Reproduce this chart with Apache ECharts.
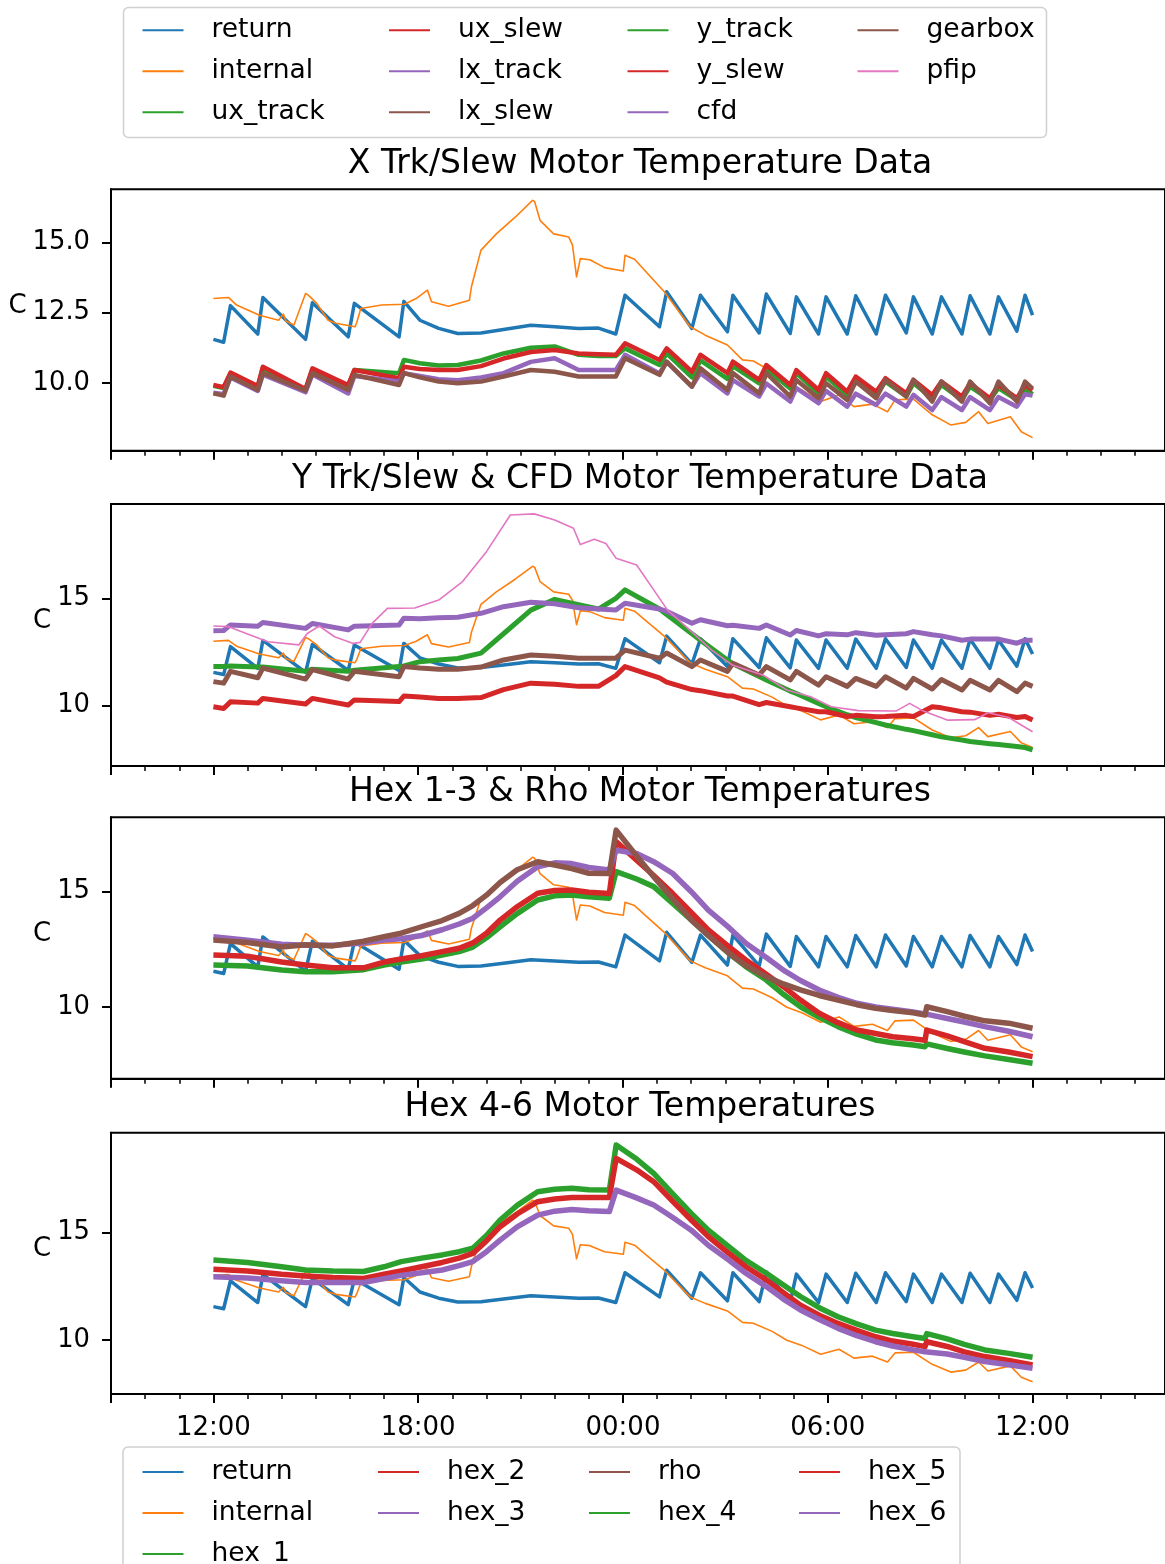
<!DOCTYPE html>
<html><head><meta charset="utf-8">
<script src="https://cdn.jsdelivr.net/npm/echarts@6/dist/echarts.min.js"></script>
<style>html,body{margin:0;padding:0;background:#fff}#c{width:1165px;height:1564px}</style>
</head><body><div id="c"></div>
<script>
// ---------------- DATA (times are hours since 00:00 of day 1) ----------------
const T_RET = [12.0, 12.3, 12.5, 13.3, 13.45, 14.7, 14.9, 15.95, 16.13, 17.44, 17.58, 18.05, 18.6, 19.16, 19.84, 20.5, 21.3, 22.0, 22.7, 23.28, 23.79, 24.06, 25.07, 25.28, 26.02, 26.27, 27.06, 27.22, 27.99, 28.2, 28.9, 29.08, 29.73, 29.95, 30.57, 30.82, 31.42, 31.69, 32.3, 32.51, 33.06, 33.33, 33.93, 34.17, 34.75, 35.0, 35.54, 35.78, 36.0];
const RETURN = [11.55, 11.45, 12.75, 11.74, 13.04, 11.55, 12.85, 11.64, 12.83, 11.64, 12.9, 12.23, 11.94, 11.76, 11.78, 11.9, 12.05, 12.0, 11.94, 11.95, 11.74, 13.12, 12.0, 13.24, 11.94, 13.12, 11.82, 13.12, 11.78, 13.16, 11.76, 13.06, 11.74, 13.06, 11.74, 13.1, 11.74, 13.12, 11.78, 13.06, 11.74, 13.06, 11.74, 13.1, 11.74, 13.06, 11.84, 13.12, 12.41];
const UX_TRACK = [9.9, 9.82, 10.33, 9.86, 10.52, 9.76, 10.48, 9.9, 10.46, 10.35, 10.82, 10.7, 10.62, 10.64, 10.8, 11.05, 11.25, 11.3, 11.0, 10.96, 10.96, 11.23, 10.64, 11.05, 10.2, 10.8, 10.15, 10.6, 9.99, 10.5, 9.8, 10.35, 9.63, 10.23, 9.57, 10.1, 9.57, 10.05, 9.52, 9.99, 9.46, 9.93, 9.4, 9.87, 9.4, 9.82, 9.4, 9.8, 9.6];
const UX_SLEW = [9.93, 9.85, 10.37, 9.89, 10.58, 9.79, 10.52, 9.93, 10.46, 10.17, 10.58, 10.5, 10.46, 10.46, 10.6, 10.87, 11.1, 11.17, 11.05, 11.02, 11.0, 11.41, 10.82, 11.23, 10.4, 11.0, 10.35, 10.76, 10.11, 10.64, 9.93, 10.46, 9.75, 10.35, 9.69, 10.23, 9.69, 10.17, 9.63, 10.11, 9.57, 10.05, 9.52, 9.99, 9.46, 9.93, 9.46, 9.93, 9.75];
const LX_TRACK = [9.65, 9.6, 10.2, 9.72, 10.3, 9.67, 10.3, 9.63, 10.25, 10.05, 10.35, 10.25, 10.13, 10.1, 10.2, 10.35, 10.75, 10.88, 10.46, 10.46, 10.46, 11.0, 10.34, 10.75, 9.87, 10.35, 9.63, 10.1, 9.52, 9.98, 9.34, 9.82, 9.28, 9.72, 9.16, 9.62, 9.22, 9.62, 9.16, 9.58, 9.04, 9.5, 9.04, 9.5, 9.04, 9.5, 9.16, 9.6, 9.55];
const LX_SLEW = [9.63, 9.55, 10.23, 9.75, 10.35, 9.73, 10.35, 9.75, 10.29, 9.93, 10.35, 10.2, 10.05, 9.99, 10.05, 10.23, 10.46, 10.4, 10.23, 10.23, 10.23, 10.88, 10.29, 10.76, 9.87, 10.52, 9.75, 10.35, 9.63, 10.35, 9.52, 10.11, 9.46, 9.99, 9.4, 10.05, 9.46, 10.11, 9.52, 10.11, 9.34, 10.05, 9.34, 10.05, 9.28, 10.05, 9.34, 10.05, 9.8];
const Y_TRACK = [11.82, 11.82, 11.85, 11.8, 11.8, 11.6, 11.7, 11.6, 11.65, 11.82, 11.85, 12.05, 12.13, 12.2, 12.45, 13.35, 14.45, 14.95, 14.7, 14.5, 15.0, 15.39, 14.5, 14.25, 13.35, 13.05, 12.13, 11.95, 11.36, 11.2, 10.68, 10.57, 10.1, 9.95, 9.58, 9.45, 9.21, 9.1, 8.9, 8.84, 8.65, 8.55, 8.4, 8.33, 8.23, 8.19, 8.1, 8.05, 7.94];
const Y_SLEW = [9.95, 9.87, 10.18, 10.12, 10.34, 10.08, 10.34, 10.03, 10.27, 10.19, 10.45, 10.4, 10.34, 10.34, 10.38, 10.75, 11.05, 11.0, 10.9, 10.9, 11.4, 11.82, 11.3, 11.1, 10.75, 10.7, 10.45, 10.45, 10.05, 10.15, 9.95, 9.9, 9.72, 9.72, 9.5, 9.55, 9.49, 9.5, 9.55, 9.5, 9.95, 9.9, 9.72, 9.7, 9.55, 9.6, 9.45, 9.5, 9.33];
const CFD = [13.49, 13.5, 13.76, 13.7, 13.87, 13.6, 13.83, 13.53, 13.7, 13.76, 14.07, 14.05, 14.1, 14.12, 14.3, 14.61, 14.82, 14.75, 14.56, 14.5, 14.45, 14.77, 14.5, 14.4, 13.84, 14.0, 13.72, 13.75, 13.6, 13.76, 13.29, 13.5, 13.25, 13.35, 13.3, 13.4, 13.28, 13.3, 13.35, 13.45, 13.3, 13.25, 13.05, 13.1, 13.1, 13.1, 12.91, 13.05, 13.05];
const GEARBOX = [11.12, 11.05, 11.6, 11.3, 11.75, 11.24, 11.68, 11.24, 11.6, 11.35, 11.82, 11.75, 11.7, 11.7, 11.8, 12.13, 12.36, 12.3, 12.21, 12.21, 12.21, 12.59, 12.21, 12.45, 11.82, 12.13, 11.6, 11.97, 11.43, 11.82, 11.2, 11.6, 10.96, 11.35, 10.9, 11.27, 10.9, 11.35, 10.82, 11.27, 10.78, 11.22, 10.73, 11.18, 10.73, 11.18, 10.65, 11.05, 10.9];

const T_INT = [12.0, 12.44, 12.68, 13.35, 13.91, 14.05, 14.12, 14.36, 14.7, 14.78, 15.03, 15.36, 15.59, 16.15, 16.2, 16.32, 16.93, 17.6, 17.94, 18.27, 18.39, 18.89, 19.5, 19.56, 19.84, 20.29, 20.85, 21.35, 21.41, 21.57, 21.97, 22.41, 22.52, 22.64, 22.75, 23.03, 23.46, 24.01, 24.06, 24.34, 24.72, 25.21, 25.97, 26.41, 27.06, 27.5, 27.82, 28.37, 28.8, 29.24, 29.79, 30.33, 30.77, 31.31, 31.75, 31.97, 32.51, 33.06, 33.6, 34.04, 34.42, 34.69, 35.35, 35.67, 36.0];
const INTERNAL = [13.0, 13.04, 12.77, 12.41, 12.23, 12.45, 12.2, 12.06, 13.18, 13.12, 12.83, 12.23, 12.12, 12.0, 12.15, 12.65, 12.77, 12.8, 13.0, 13.3, 12.89, 12.73, 12.94, 13.42, 14.72, 15.3, 15.9, 16.49, 16.45, 15.78, 15.3, 15.19, 14.9, 13.77, 14.42, 14.38, 14.1, 13.98, 14.54, 14.4, 13.89, 13.24, 12.0, 11.7, 11.35, 10.82, 10.78, 10.4, 9.99, 9.75, 9.34, 9.57, 9.16, 9.25, 8.98, 9.4, 9.43, 8.87, 8.51, 8.6, 8.98, 8.56, 8.8, 8.27, 8.06];

const T_PFIP = [12.0, 12.45, 13.0, 13.6, 14.5, 14.75, 15.1, 15.55, 16.1, 16.3, 16.65, 17.1, 17.9, 18.6, 19.3, 20.0, 20.7, 21.4, 22.0, 22.55, 22.75, 23.16, 23.5, 23.8, 24.4, 24.9, 25.3, 25.95, 26.6, 27.2, 28.1, 28.8, 29.5, 30.1, 30.9, 32.0, 32.4, 32.8, 33.5, 34.3, 34.7, 35.3, 36.0];
const PFIP = [13.71, 13.68, 13.34, 12.98, 12.83, 13.36, 13.71, 13.21, 12.9, 12.95, 13.83, 14.53, 14.55, 14.92, 15.78, 17.17, 18.88, 18.93, 18.65, 18.26, 17.5, 17.75, 17.55, 16.86, 16.55, 15.39, 14.46, 13.53, 12.59, 11.9, 11.43, 10.73, 10.42, 9.95, 9.77, 9.75, 10.11, 9.75, 9.33, 9.35, 9.67, 9.45, 8.79];

const T_HEX = [12.0, 13.0, 14.0, 14.7, 15.5, 16.4, 17.0, 17.5, 18.1, 18.7, 19.2, 19.6, 20.0, 20.4, 20.9, 21.5, 22.0, 22.5, 23.0, 23.6, 23.8, 24.4, 24.9, 25.45, 26.0, 26.5, 27.1, 27.6, 28.2, 28.7, 29.2, 29.75, 30.3, 30.85, 31.4, 31.9, 32.5, 32.85, 32.9, 33.5, 34.0, 34.6, 35.3, 36.0];
const HEX_1 = [11.82, 11.78, 11.6, 11.53, 11.53, 11.62, 11.82, 11.95, 12.08, 12.25, 12.4, 12.6, 13.0, 13.48, 14.05, 14.64, 14.82, 14.86, 14.78, 14.72, 15.87, 15.55, 15.22, 14.5, 13.77, 13.1, 12.33, 11.75, 11.17, 10.55, 10.01, 9.55, 9.15, 8.82, 8.57, 8.45, 8.35, 8.28, 8.4, 8.2, 8.05, 7.88, 7.72, 7.56];
const HEX_2 = [12.25, 12.2, 11.95, 11.82, 11.7, 11.7, 11.95, 12.08, 12.22, 12.4, 12.55, 12.78, 13.2, 13.77, 14.35, 14.93, 15.05, 15.07, 14.98, 14.92, 17.17, 16.37, 15.7, 14.93, 14.1, 13.34, 12.62, 12.04, 11.42, 10.88, 10.3, 9.73, 9.32, 9.0, 8.85, 8.71, 8.62, 8.56, 9.0, 8.75, 8.5, 8.21, 8.05, 7.85];
const HEX_3 = [13.05, 12.9, 12.72, 12.68, 12.68, 12.78, 12.9, 12.96, 13.1, 13.35, 13.6, 13.85, 14.3, 14.78, 15.45, 16.08, 16.25, 16.22, 16.05, 15.94, 16.8, 16.66, 16.3, 15.8, 15.0, 14.2, 13.45, 12.76, 12.15, 11.6, 11.15, 10.74, 10.42, 10.16, 10.0, 9.9, 9.78, 9.7, 9.7, 9.5, 9.35, 9.15, 8.95, 8.71];
const RHO = [12.9, 12.8, 12.6, 12.7, 12.65, 12.85, 13.05, 13.2, 13.48, 13.75, 14.06, 14.4, 14.85, 15.4, 15.95, 16.3, 16.16, 16.0, 15.8, 15.79, 17.67, 16.55, 15.65, 14.7, 13.77, 13.1, 12.33, 11.8, 11.31, 11.0, 10.74, 10.5, 10.3, 10.1, 9.94, 9.85, 9.75, 9.65, 10.01, 9.8, 9.6, 9.4, 9.3, 9.08];
const HEX_4 = [13.71, 13.6, 13.4, 13.25, 13.2, 13.18, 13.4, 13.64, 13.8, 13.95, 14.1, 14.26, 14.85, 15.57, 16.25, 16.88, 17.0, 17.04, 16.98, 16.96, 19.05, 18.4, 17.74, 16.8, 15.88, 15.1, 14.33, 13.7, 13.1, 12.55, 12.02, 11.5, 11.08, 10.75, 10.46, 10.3, 10.15, 10.07, 10.3, 10.05, 9.8, 9.54, 9.38, 9.2];
const HEX_5 = [13.28, 13.2, 13.05, 12.97, 12.9, 12.86, 13.05, 13.2, 13.4, 13.6, 13.8, 14.02, 14.6, 15.26, 15.85, 16.42, 16.55, 16.62, 16.62, 16.62, 18.43, 17.9, 17.35, 16.45, 15.57, 14.8, 14.02, 13.4, 12.79, 12.2, 11.62, 11.15, 10.77, 10.45, 10.15, 9.95, 9.8, 9.69, 9.92, 9.7, 9.45, 9.23, 9.05, 8.84];
const HEX_6 = [12.94, 12.88, 12.75, 12.67, 12.67, 12.67, 12.85, 13.0, 13.12, 13.25, 13.45, 13.64, 14.1, 14.64, 15.25, 15.8, 15.98, 16.06, 16.0, 15.96, 16.96, 16.6, 16.27, 15.7, 15.1, 14.4, 13.71, 13.1, 12.48, 11.9, 11.39, 10.95, 10.54, 10.2, 9.92, 9.72, 9.54, 9.45, 9.45, 9.35, 9.2, 9.0, 8.85, 8.69];

// axis ticks / labels
const X_RANGE = [9, 39.88];
const X_MAJOR_TICKS = [9, 12, 18, 24, 30, 36];
const X_LABEL_TICKS = [12, 18, 24, 30, 36];
const X_MINOR_TICKS = [10, 11, 13, 14, 15, 16, 17, 19, 20, 21, 22, 23, 25, 26, 27, 28, 29, 31, 32, 33, 34, 35, 37, 38, 39];
const Y_RANGES = [[7.594, 16.883], [7.193, 19.39], [6.891, 18.226], [7.493, 19.624]];
const Y_TICKS = [[10, 12.5, 15], [10, 15], [10, 15], [10, 15]];
const TITLES = ['X Trk/Slew Motor Temperature Data', 'Y Trk/Slew & CFD Motor Temperature Data', 'Hex 1-3 & Rho Motor Temperatures', 'Hex 4-6 Motor Temperatures'];

// ---------------- STYLE / LAYOUT ----------------
const FONT = 'DejaVu Sans';
const C = {c0:'#1f77b4', c1:'#ff7f0e', c2:'#2ca02c', c3:'#d62728', c4:'#9467bd', c5:'#8c564b', c6:'#e377c2'};
const PANELS = [
  {top:189.3, height:261.4, nameGap:78, titleTop:148},
  {top:504, height:262, nameGap:52, titleTop:462.7},
  {top:817.3, height:261.4, nameGap:52, titleTop:776},
  {top:1132.7, height:261.3, nameGap:52, titleTop:1091.4}
];
const TXT = {fontFamily: FONT, color: '#000'};

function pad2(n){ return (n < 10 ? '0' : '') + n; }
function fmtHour(v){ return pad2(Math.round(v) % 24) + ':00'; }

function line(name, color, ts, vs, p, w){
  return {type:'line', name, xAxisIndex: p*2, yAxisIndex: p,
    data: ts.map((t,i)=>[t, vs[i]]), symbol:'none', showSymbol:false,
    lineStyle:{color, width:w, join:'round'}, itemStyle:{color}, emphasis:{disabled:true}, silent:true, animation:false};
}

const series = [
  line('return', C.c0, T_RET, RETURN, 0, 3.5), line('internal', C.c1, T_INT, INTERNAL, 0, 1.6),
  line('ux_track', C.c2, T_RET, UX_TRACK, 0, 4.5), line('ux_slew', C.c3, T_RET, UX_SLEW, 0, 4.5),
  line('lx_track', C.c4, T_RET, LX_TRACK, 0, 4.5), line('lx_slew', C.c5, T_RET, LX_SLEW, 0, 4.5),

  line('return', C.c0, T_RET, RETURN, 1, 3.5), line('internal', C.c1, T_INT, INTERNAL, 1, 1.6),
  line('y_track', C.c2, T_RET, Y_TRACK, 1, 5), line('y_slew', C.c3, T_RET, Y_SLEW, 1, 5),
  line('cfd', C.c4, T_RET, CFD, 1, 5), line('gearbox', C.c5, T_RET, GEARBOX, 1, 5),
  line('pfip', C.c6, T_PFIP, PFIP, 1, 1.6),

  line('return', C.c0, T_RET, RETURN, 2, 3.5), line('internal', C.c1, T_INT, INTERNAL, 2, 1.6),
  line('hex_1', C.c2, T_HEX, HEX_1, 2, 5.5), line('hex_2', C.c3, T_HEX, HEX_2, 2, 5.5),
  line('hex_3', C.c4, T_HEX, HEX_3, 2, 5.5), line('rho', C.c5, T_HEX, RHO, 2, 5.5),

  line('return', C.c0, T_RET, RETURN, 3, 3.5), line('internal', C.c1, T_INT, INTERNAL, 3, 1.6),
  line('hex_4', C.c2, T_HEX, HEX_4, 3, 5.5), line('hex_5', C.c3, T_HEX, HEX_5, 3, 5.5),
  line('hex_6', C.c4, T_HEX, HEX_6, 3, 5.5)
];

const grid = PANELS.map(p => ({left:111, right:-3, top:p.top, height:p.height, show:true, borderColor:'#000', borderWidth:2, backgroundColor:'transparent'}));

const xAxis = [];
PANELS.forEach((p, i) => {
  xAxis.push({type:'value', gridIndex:i, min:X_RANGE[0], max:X_RANGE[1], position:'bottom',
    axisLine:{show:true, onZero:false, lineStyle:{color:'#000', width:2}},
    axisTick:{show:true, customValues:X_MAJOR_TICKS, length:9, lineStyle:{color:'#000', width:2}},
    axisLabel:{show: i === 3, customValues:X_LABEL_TICKS, formatter:fmtHour, margin:21, fontSize:26, ...TXT},
    splitLine:{show:false}});
  xAxis.push({type:'value', gridIndex:i, min:X_RANGE[0], max:X_RANGE[1], position:'bottom',
    axisLine:{show:false, onZero:false},
    axisTick:{show:true, customValues:X_MINOR_TICKS, length:5, lineStyle:{color:'#000', width:1.5}},
    axisLabel:{show:false}, splitLine:{show:false}});
});

const yAxis = PANELS.map((p, i) => ({type:'value', gridIndex:i, min:Y_RANGES[i][0], max:Y_RANGES[i][1], position:'left',
  name:'C', nameLocation:'middle', nameGap:p.nameGap, nameRotate:0,
  nameTextStyle:{fontSize:26, ...TXT, align:'right', verticalAlign:'bottom', padding:[0,0,1,0]},
  axisLine:{show:true, onZero:false, lineStyle:{color:'#000', width:2}},
  axisTick:{show:true, customValues:Y_TICKS[i], length:9, lineStyle:{color:'#000', width:2}},
  axisLabel:{customValues:Y_TICKS[i], formatter: v => i === 0 ? v.toFixed(1) : String(v), margin:21, fontSize:25.8, ...TXT},
  splitLine:{show:false}}));

const title = TITLES.map((t, i) => ({text:t, left:640, top:PANELS[i].titleTop, textAlign:'center', padding:0,
  textStyle:{fontSize:33, fontWeight:'normal', ...TXT}}));

function legendCol(names, left, top){
  return {data:names, orient:'vertical', left, top, height:160, padding:0, itemGap:11, itemWidth:41, itemHeight:2, icon:'rect',
    itemStyle:{borderWidth:0, borderColor:'rgba(0,0,0,0)'}, lineStyle:{width:0},
    textStyle:{fontSize:26.5, lineHeight:30, ...TXT, padding:[0,0,0,23]}, selectedMode:true, inactiveColor:'#ccc'};
}
const LEG_TOP = [['return','internal','ux_track'], ['ux_slew','lx_track','lx_slew'], ['y_track','y_slew','cfd'], ['gearbox','pfip']];
const LEG_BOT = [['return','internal','hex_1'], ['hex_2','hex_3'], ['rho','hex_4'], ['hex_5','hex_6']];
const legend = [
  legendCol(LEG_TOP[0], 142.5, 15.3), legendCol(LEG_TOP[1], 389, 15.3), legendCol(LEG_TOP[2], 627.5, 15.3), legendCol(LEG_TOP[3], 857.5, 15.3),
  legendCol(LEG_BOT[0], 142.5, 1457), legendCol(LEG_BOT[1], 378, 1457), legendCol(LEG_BOT[2], 589, 1457), legendCol(LEG_BOT[3], 799, 1457)
];

const graphic = [
  {type:'rect', shape:{x:123.5, y:7.5, width:923, height:130, r:5}, style:{fill:'rgba(255,255,255,0.8)', stroke:'#d0d0d0', lineWidth:1.5}, z:1, silent:true},
  {type:'rect', shape:{x:123, y:1447, width:837, height:140, r:5}, style:{fill:'rgba(255,255,255,0.8)', stroke:'#d0d0d0', lineWidth:1.5}, z:1, silent:true}
];

const chart = echarts.init(document.getElementById('c'), null, {renderer:'canvas', width:1165, height:1564});
chart.setOption({animation:false, backgroundColor:'#fff', textStyle:{fontFamily:FONT}, title, legend, grid, xAxis, yAxis, series, graphic, tooltip:{show:false}});
</script>
</body></html>
